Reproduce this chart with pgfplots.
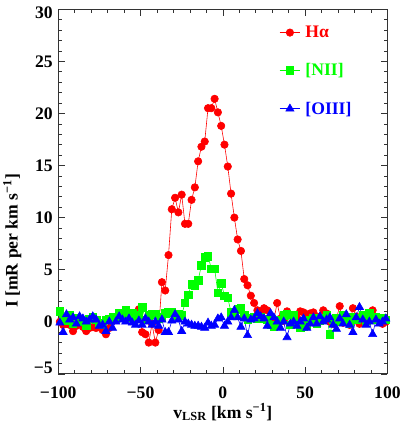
\documentclass[border=0pt]{standalone}
\usepackage{pgfplots}
\pgfplotsset{compat=1.18}
\usepackage{fontspec}
\setmainfont{Liberation Serif}

\pgfplotstableread{
v ha
-99 0.0
-97 -0.3
-95 -0.2
-93 -0.3
-91 -0.9
-89 -0.4
-87 -0.2
-85 -0.5
-83 -0.9
-81 -0.6
-79 -0.5
-77 -0.6
-75 -0.4
-73 -0.8
-71 -1.2
-69 -0.6
-67 0.1
-65 0.2
-63 0.4
-61 0.5
-59 0.3
-57 0.6
-55 0.5
-53 0.6
-51 1.2
-49 -1.0
-47 -1.2
-45 -2.0
-43 -0.2
-41 -2.0
-39 -0.8
-37 3.8
-35 3.0
-33 6.4
-31 10.8
-29 11.9
-27 10.5
-25 12.2
-23 9.4
-21 9.4
-19 11.7
-17 12.9
-15 15.4
-13 16.8
-11 17.3
-9 20.5
-7 20.5
-5 21.4
-3 20.1
-1 18.8
1 17.0
3 14.9
5 12.3
7 10.0
9 7.9
11 6.8
13 4.1
15 3.5
17 2.5
19 1.8
21 1.1
23 0.9
25 1.3
27 1.1
29 0.4
31 0.2
33 1.8
35 0.3
37 0.1
39 1.0
41 0.6
43 0.5
45 0.4
47 1.0
49 0.9
51 0.6
53 0.8
55 0.9
57 0.5
59 0.2
61 1.1
63 0.8
65 0.0
67 -0.2
69 0.3
71 1.5
73 -0.1
75 0.2
77 -0.3
79 1.3
81 0.5
83 -0.2
85 0.2
87 0.6
89 0.4
91 1.1
93 0.3
95 0.0
97 -0.2
99 0.0
}\hatable

\pgfplotstableread{
v nii
-99 1.0
-97 0.3
-95 0.1
-93 0.6
-91 -0.2
-89 0.4
-87 0.2
-85 0.0
-83 -0.4
-81 0.3
-79 0.5
-77 0.2
-75 -0.1
-73 -0.3
-71 0.2
-69 0.3
-67 0.5
-65 0.3
-63 0.8
-61 0.5
-59 1.1
-57 0.4
-55 0.8
-53 0.3
-51 0.6
-49 1.4
-47 0.2
-45 0.6
-43 0.7
-41 0.7
-39 0.3
-37 0.5
-35 0.8
-33 0.9
-31 0.9
-29 0.6
-27 0.7
-25 0.6
-23 1.8
-21 2.6
-19 3.6
-17 3.5
-15 4.0
-13 5.4
-11 6.2
-9 6.3
-7 5.1
-5 5.1
-3 2.8
-1 3.7
1 2.5
3 2.3
5 0.9
7 0.7
9 1.2
11 1.3
13 0.6
15 0.2
17 0.4
19 0.5
21 0.3
23 0.5
25 0.3
27 0.2
29 -0.3
31 -0.5
33 -0.4
35 0.2
37 0.6
39 0.7
41 -0.3
43 0.6
45 -0.2
47 -0.6
49 -0.5
51 -0.3
53 0.2
55 0.4
57 -0.2
59 0.1
61 0.4
63 0.6
65 -1.2
67 0.2
69 0.4
71 0.0
73 0.6
75 0.3
77 -0.2
79 0.5
81 0.2
83 0.4
85 0.6
87 0.1
89 0.8
91 0.2
93 0.5
95 0.3
97 0.4
99 0.2
}\niitable

\pgfplotstableread{
v oiii
-99 -0.1
-97 -1.0
-95 0.7
-93 0.2
-91 0.4
-89 -0.2
-87 0.5
-85 0.3
-83 0.0
-81 0.2
-79 0.5
-77 0.2
-75 -0.4
-73 -0.3
-71 -0.9
-69 0.0
-67 -0.6
-65 0.0
-63 0.5
-61 0.2
-59 0.0
-57 0.3
-55 -0.1
-53 -0.3
-51 0.1
-49 -0.3
-47 0.3
-45 0.0
-43 -0.3
-41 0.0
-39 -0.4
-37 0.2
-35 -1.0
-33 -1.0
-31 0.1
-29 0.7
-27 0.2
-25 -0.9
-23 0.0
-21 -0.2
-19 -0.3
-17 -0.4
-15 -0.4
-13 -0.5
-11 -0.6
-9 -0.1
-7 -0.4
-5 -0.3
-3 0.3
-1 0.4
1 -0.4
3 0.0
5 0.4
7 1.1
9 0.4
11 -0.5
13 0.3
15 -1.3
17 0.2
19 0.3
21 0.8
23 0.5
25 0.3
27 -0.4
29 0.8
31 0.4
33 0.0
35 -0.6
37 0.0
39 -1.5
41 -0.2
43 0.0
45 -0.4
47 0.0
49 0.3
51 -0.6
53 -0.2
55 0.4
57 -0.2
59 0.5
61 0.0
63 0.2
65 0.4
67 -0.3
69 -0.7
71 0.3
73 -0.2
75 0.7
77 -0.3
79 -1.0
81 0.4
83 1.4
85 0.2
87 -0.3
89 0.0
91 -1.2
93 0.2
95 -0.2
97 0.0
99 0.3
}\oiiitable

\begin{document}
\begin{tikzpicture}
\begin{axis}[
    scale only axis,
    width=335bp, height=371bp,
    xmin=-100, xmax=100,
    ymin=-5, ymax=30,
    xtick={-100,-50,0,50,100},
    xticklabels={−100,−50,0,50,100},
    ytick={-5,0,5,10,15,20,25,30},
    yticklabels={\raisebox{6bp}[\height][\depth]{−5},0,5,10,15,20,25,\raisebox{-4bp}[\height][\depth]{30}},
    minor x tick num=4,
    minor y tick num=4,
    tick align=inside,
    major tick length=7bp,
    minor tick length=3.5bp,
    axis line style={line width=0.8pt, black!80},
    every tick/.style={black!80, line width=0.6pt},
    ticklabel style={font=\fontsize{18}{20}\selectfont\bfseries},
    xticklabel style={yshift=-10bp},
    yticklabel style={xshift=-2bp},
    label style={font=\fontsize{18}{20}\selectfont\bfseries},
    xlabel={v\textsubscript{LSR} [km s\textsuperscript{−1}]},
    ylabel={I [mR per km s\textsuperscript{−1}]},
    xlabel style={yshift=2bp},
    ylabel style={at={(ticklabel cs:0.365)}, yshift=6bp},
    legend style={at={(0.662,0.965)}, anchor=north west, draw=none, fill=none,
        font=\fontsize{18}{20}\selectfont\bfseries, row sep=21bp,
        /tikz/every even column/.append style={column sep=4bp}},
    legend cell align=left,
    legend image code/.code={
        \draw[#1, mark=none] (0bp,0bp) -- (21bp,0bp);
        \draw[#1, only marks] plot coordinates {(10.5bp,0bp)};
    },
]
\addplot[red, line width=0.6pt, mark=*, mark size=3.8bp, mark options={fill=red, draw=red}]
    table[x=v, y=ha] {\hatable};
\addlegendentry{\hspace{3bp}\textcolor{red}{Hα}}
\addplot[green, line width=0.6pt, mark=square*, mark size=3.8bp, mark options={fill=green, draw=green}]
    table[x=v, y=nii] {\niitable};
\addlegendentry{\hspace{3bp}\textcolor{green}{[NII]}}
\addplot[blue, line width=0.6pt, mark=triangle*, mark size=4.8bp, mark options={fill=blue, draw=blue}]
    table[x=v, y=oiii] {\oiiitable};
\addlegendentry{\hspace{3bp}\textcolor{blue}{[OIII]}}
\end{axis}
\end{tikzpicture}
\end{document}
